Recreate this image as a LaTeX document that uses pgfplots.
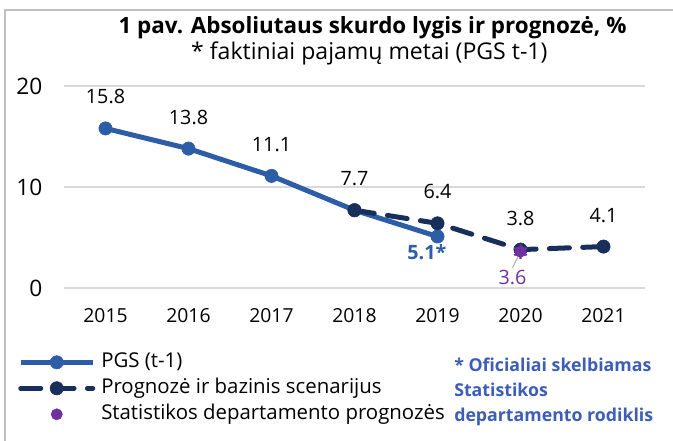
\documentclass[border=0pt]{standalone}
\usepackage{pgfplots}
\pgfplotsset{compat=1.18}
\usepackage{fontspec}
\setmainfont{Open Sans}

\definecolor{pgsblue}{HTML}{2E5DA8}
\definecolor{navy}{HTML}{172F5A}
\definecolor{stpurple}{HTML}{7030A0}
\definecolor{noteblue}{HTML}{3C5DB8}
\definecolor{gridgray}{HTML}{D9D9D9}
\definecolor{framegray}{HTML}{BFBFBF}

\begin{document}
\begin{tikzpicture}
% whole picture = 673 x 441 px, 1 px = 0.75 pt
\useasboundingbox (0,0) rectangle (504.75pt,330.75pt);
\draw[framegray, line width=1.2pt] (3.75pt,0) -- (3.75pt,323.25pt) -- (504.75pt,323.25pt);

\node[font=\fontsize{16.8}{18}\selectfont\bfseries] at (279.4pt,309.75pt)
  {1 pav. Absoliutaus skurdo lygis ir prognozė, \%};
\node[font=\fontsize{17.3}{19}\selectfont] at (277pt,291pt)
  {* faktiniai pajamų metai (PGS t-1)};

\begin{axis}[
    at={(48pt,114.75pt)}, anchor=south west,
    scale only axis, width=435.75pt, height=151.5pt,
    xmin=2014.5, xmax=2021.5, ymin=0, ymax=20,
    xtick={2015,...,2021}, ytick={0,10,20},
    xticklabel style={/pgf/number format/1000 sep={}, font=\fontsize{14.5}{16}\selectfont,
        anchor=north, inner sep=0pt, yshift=-15.4pt},
    yticklabel style={font=\fontsize{17}{19}\selectfont, anchor=east, inner sep=0pt, xshift=-16pt},
    /pgf/number format/assume math mode=true,
    axis line style={draw=none}, major tick length=0pt,
    ymajorgrids, grid style={gridgray, line width=1.1pt},
    legend style={
        at={(axis description cs:-0.0792,-0.322)}, anchor=north west,
        draw=none, fill=none, inner sep=0pt,
        font=\fontsize{15.3}{17}\selectfont,
        nodes={inner sep=0pt, text height=10.5pt, text depth=3pt},
        row sep=6pt,
        /tikz/every odd column/.style={column sep=4.5pt}},
    legend cell align=left,
    legend image code/.code={
        \draw[mark repeat=2, mark phase=2, #1] plot coordinates {(0pt,0pt) (27pt,0pt) (54pt,0pt)};},
]
\addplot[pgsblue, line width=3.75pt, mark=*, mark size=5pt,
    mark options={solid, line width=0.4pt}] coordinates {
    (2015,15.8) (2016,13.8) (2017,11.1) (2018,7.7) (2019,5.1)
};
\addlegendentry{PGS (t-1)}
\addplot[navy, line width=3.75pt, line cap=round, dash pattern=on 15pt off 10pt,
    mark=*, mark size=5pt, mark options={solid, line width=0.4pt}] coordinates {
    (2018,7.7) (2019,6.4) (2020,3.8) (2021,4.1)
};
\addlegendentry{Prognozė ir bazinis scenarijus}
\draw[gray!60, line width=0.9pt] (axis cs:2020,3.6) -- ++(-6pt,-12pt);
\addplot[stpurple, only marks, mark=*, mark size=4.2pt,
    mark options={fill=stpurple, line width=0.4pt}] coordinates {
    (2020,3.6)
};
\addlegendentry{Statistikos departamento prognozės}
% spiky edge of the purple marker
\addplot[stpurple, only marks, mark=asterisk, mark size=5.4pt, forget plot,
    mark options={line width=1.6pt}] coordinates {
    (2020,3.6)
};

% value labels
\addplot[draw=none, forget plot, nodes near coords, point meta=explicit symbolic,
    every node near coord/.style={black, anchor=south, inner sep=0pt, yshift=18pt,
        font=\fontsize{14.8}{16}\selectfont}] coordinates {
    (2015,15.8) [15.8] (2016,13.8) [13.8] (2017,11.1) [11.1] (2018,7.7) [7.7]
    (2019,6.4) [6.4] (2020,3.8) [3.8] (2021,4.1) [4.1]
};
\addplot[draw=none, forget plot, nodes near coords, point meta=explicit symbolic,
    every node near coord/.style={pgsblue, anchor=north, inner sep=0pt, yshift=-6pt, xshift=-8pt,
        font=\fontsize{14.8}{16}\selectfont\bfseries}] coordinates {
    (2019,5.1) [5.1*]
};
\addplot[draw=none, forget plot, nodes near coords, point meta=explicit symbolic,
    every node near coord/.style={stpurple, anchor=north, inner sep=0pt, yshift=-14pt, xshift=-6pt,
        font=\fontsize{14.8}{16}\selectfont}] coordinates {
    (2020,3.6) [3.6]
};
\end{axis}

\node[anchor=north west, align=left, inner sep=0pt, fill=white, text=noteblue,
    font=\fontsize{13.3}{18.75}\selectfont\bfseries] at (340.5pt,62.25pt)
  {* Oficialiai skelbiamas\\Statistikos\\departamento rodiklis};
\end{tikzpicture}
\end{document}
